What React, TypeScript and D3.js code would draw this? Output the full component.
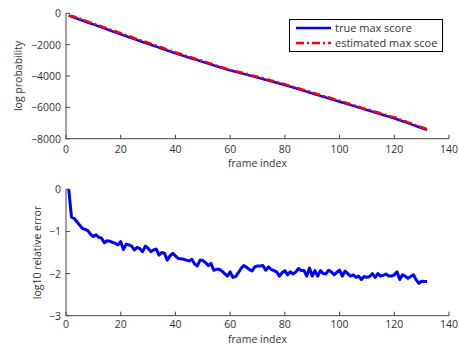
import React, { useEffect, useRef } from "react";
import * as d3 from "d3";

const frames = d3.range(1, 133);

const trueMaxScore = [
  -150, -210, -275, -335, -400, -460, -525, -585, -650, -710,
  -770, -835, -895, -960, -1020, -1085, -1150, -1210, -1275, -1340,
  -1400, -1460, -1525, -1585, -1645, -1705, -1765, -1830, -1890, -1950,
  -2010, -2070, -2130, -2190, -2250, -2310, -2370, -2430, -2490, -2550,
  -2605, -2660, -2715, -2770, -2825, -2880, -2935, -2990, -3045, -3100,
  -3155, -3210, -3265, -3320, -3375, -3430, -3480, -3535, -3590, -3640,
  -3685, -3730, -3775, -3820, -3865, -3915, -3960, -4010, -4055, -4105,
  -4150, -4195, -4245, -4290, -4340, -4385, -4430, -4480, -4525, -4570,
  -4625, -4680, -4730, -4785, -4840, -4890, -4945, -5000, -5050, -5105,
  -5160, -5210, -5265, -5320, -5370, -5425, -5480, -5530, -5585, -5640,
  -5690, -5745, -5800, -5850, -5905, -5955, -6010, -6060, -6115, -6170,
  -6220, -6275, -6325, -6380, -6435, -6485, -6540, -6590, -6645, -6700,
  -6760, -6820, -6885, -6945, -7010, -7070, -7130, -7195, -7255, -7320,
  -7380, -7440,
];

const estMaxScore = [
  -150, -165, -220, -280, -345, -410, -470, -530, -595, -660,
  -715, -775, -835, -905, -960, -1025, -1090, -1145, -1210, -1265,
  -1335, -1395, -1460, -1515, -1585, -1635, -1700, -1765, -1815, -1880,
  -1945, -2000, -2060, -2130, -2180, -2245, -2320, -2370, -2420, -2485,
  -2545, -2600, -2655, -2710, -2770, -2815, -2885, -2945, -2985, -3040,
  -3100, -3160, -3210, -3280, -3335, -3390, -3440, -3500, -3560, -3600,
  -3655, -3700, -3735, -3770, -3810, -3860, -3910, -3965, -4000, -4045,
  -4090, -4135, -4195, -4230, -4290, -4335, -4385, -4440, -4480, -4520,
  -4580, -4630, -4685, -4735, -4780, -4835, -4890, -4955, -4985, -5060,
  -5100, -5165, -5205, -5265, -5320, -5360, -5420, -5480, -5525, -5575,
  -5640, -5680, -5740, -5800, -5850, -5905, -5960, -6015, -6065, -6120,
  -6165, -6215, -6275, -6320, -6380, -6430, -6480, -6535, -6590, -6635,
  -6685, -6770, -6820, -6885, -6955, -7010, -7065, -7145, -7210, -7270,
  -7330, -7390,
];

const log10RelError = [
  0, -0.66, -0.69, -0.77, -0.85, -0.93, -0.95, -0.98, -1.07, -1.12,
  -1.08, -1.14, -1.16, -1.27, -1.22, -1.23, -1.26, -1.28, -1.32, -1.24,
  -1.43, -1.3, -1.32, -1.35, -1.44, -1.38, -1.41, -1.48, -1.35, -1.4,
  -1.48, -1.44, -1.42, -1.56, -1.5, -1.52, -1.68, -1.58, -1.52, -1.58,
  -1.64, -1.65, -1.66, -1.68, -1.7, -1.66, -1.77, -1.82, -1.68, -1.69,
  -1.74, -1.81, -1.76, -1.92, -1.9, -1.9, -1.94, -2.0, -2.06, -1.96,
  -2.09, -2.07, -1.98, -1.88, -1.81, -1.85, -1.9, -1.94, -1.84, -1.82,
  -1.82, -1.81, -1.92, -1.84, -1.9, -1.93, -1.96, -2.06, -1.98, -1.93,
  -2.03, -1.96, -2.01, -1.96, -1.88, -1.93, -1.93, -2.06, -1.87, -2.06,
  -1.93, -2.06, -1.93, -2.0, -2.01, -1.92, -1.96, -2.03, -1.97, -1.92,
  -2.06, -1.94, -2.0, -2.06, -2.03, -2.09, -2.06, -2.14, -2.07, -2.09,
  -2.07, -2.0, -2.09, -2.0, -2.06, -2.04, -2.01, -2.06, -2.06, -2.03,
  -1.96, -2.14, -2.03, -2.06, -2.11, -2.07, -2.03, -2.15, -2.23, -2.18,
  -2.19, -2.19,
];

const xTicks = [0, 20, 40, 60, 80, 100, 120, 140];
const topYTicks = [0, -2000, -4000, -6000, -8000];
const bottomYTicks = [0, -1, -2, -3];
const legendLabels = ["true max score", "estimated max scoe"];

const FONT = "'Open Sans', 'DejaVu Sans', sans-serif";
const FS = "10.5px";
const AXIS = "#444";
const TEXT = "#333";

export default function App() {
  const svgRef = useRef<SVGSVGElement>(null);

  useEffect(() => {
    const width = 459, height = 345;
    const svg = d3.select(svgRef.current);
    svg.selectAll("*").remove();
    svg.attr("width", width).attr("height", height);

    const x = d3.scaleLinear().domain([0, 140]).range([66, 449]);

    // axes with inward ticks, matlab style with box off
    function drawAxes(y: d3.ScaleLinear<number, number>, yTicks: number[], ylabel: string,
                      ylabelX: number, tickGap: number, labelGap: number) {
      const [yBottom, yTop] = y.range();
      const g = svg.append("g");

      g.append("line")
        .attr("x1", 66).attr("x2", 66)
        .attr("y1", yTop).attr("y2", yBottom)
        .attr("stroke", AXIS);
      g.append("line")
        .attr("x1", 66).attr("x2", 449)
        .attr("y1", yBottom).attr("y2", yBottom)
        .attr("stroke", AXIS);

      g.selectAll(".xt")
        .data(xTicks)
        .join("line")
        .attr("x1", d => x(d)).attr("x2", d => x(d))
        .attr("y1", yBottom).attr("y2", yBottom - 4)
        .attr("stroke", AXIS);

      g.selectAll(".xl")
        .data(xTicks)
        .join("text")
        .attr("x", d => x(d))
        .attr("y", yBottom + tickGap)
        .attr("text-anchor", "middle")
        .attr("font-size", FS)
        .attr("font-family", FONT)
        .attr("fill", TEXT)
        .text(d => String(d));

      g.selectAll(".yt")
        .data(yTicks)
        .join("line")
        .attr("x1", 66).attr("x2", 70)
        .attr("y1", d => y(d)).attr("y2", d => y(d))
        .attr("stroke", AXIS);

      g.selectAll(".yl")
        .data(yTicks)
        .join("text")
        .attr("x", 61)
        .attr("y", d => y(d) + 4)
        .attr("text-anchor", "end")
        .attr("font-size", FS)
        .attr("font-family", FONT)
        .attr("fill", TEXT)
        .text(d => (d < 0 ? "\u2212" + String(-d) : String(d)));

      g.append("text")
        .attr("x", 257.5)
        .attr("y", yBottom + labelGap)
        .attr("text-anchor", "middle")
        .attr("font-size", FS)
        .attr("font-family", FONT)
        .attr("fill", TEXT)
        .text("frame index");

      g.append("text")
        .attr("transform", `translate(${ylabelX},${(yTop + yBottom) / 2}) rotate(-90)`)
        .attr("text-anchor", "middle")
        .attr("font-size", FS)
        .attr("font-family", FONT)
        .attr("fill", TEXT)
        .text(ylabel);
    }

    // top panel
    const yTop = d3.scaleLinear().domain([-8000, 0]).range([138.7, 13.3]);
    drawAxes(yTop, topYTicks, "log probability", 22, 14.5, 28.5);

    const topLine = (vals: number[]) =>
      d3.line<number>().x((_, i) => x(frames[i])).y(d => yTop(d))(vals);

    svg.append("path")
      .attr("d", topLine(trueMaxScore))
      .attr("fill", "none")
      .attr("stroke", "#0000ff")
      .attr("stroke-width", 2.5);

    svg.append("path")
      .attr("d", topLine(estMaxScore))
      .attr("fill", "none")
      .attr("stroke", "#ff0000")
      .attr("stroke-width", 2.5)
      .attr("stroke-dasharray", "8,3,2,3");

    // legend
    const lg = svg.append("g");
    lg.append("rect")
      .attr("x", 289.5).attr("y", 19.5)
      .attr("width", 153).attr("height", 32)
      .attr("fill", "#fff")
      .attr("stroke", "#000");
    legendLabels.forEach((label, i) => {
      const ly = 28 + i * 15;
      lg.append("line")
        .attr("x1", 296).attr("x2", 331)
        .attr("y1", ly).attr("y2", ly)
        .attr("stroke", i === 0 ? "#0000ff" : "#ff0000")
        .attr("stroke-width", 2.5)
        .attr("stroke-dasharray", i === 0 ? null : "8,3,2,3");
      lg.append("text")
        .attr("x", 335)
        .attr("y", ly + 4)
        .attr("font-size", "11px")
        .attr("font-family", FONT)
        .attr("fill", TEXT)
        .text(label);
    });

    // bottom panel
    const yBot = d3.scaleLinear().domain([-3, 0]).range([315.7, 189.3]);
    drawAxes(yBot, bottomYTicks, "log10 relative error", 41, 12.5, 26.8);

    svg.append("path")
      .attr("d", d3.line<number>().x((_, i) => x(frames[i])).y(d => yBot(d))(log10RelError))
      .attr("fill", "none")
      .attr("stroke", "#0000ff")
      .attr("stroke-width", 3)
      .attr("stroke-linejoin", "round");
  }, []);

  return (
    <div style={{ position: "fixed", left: 0, top: 0, background: "#fff" }}>
      <svg ref={svgRef} style={{ display: "block" }} />
    </div>
  );
}
